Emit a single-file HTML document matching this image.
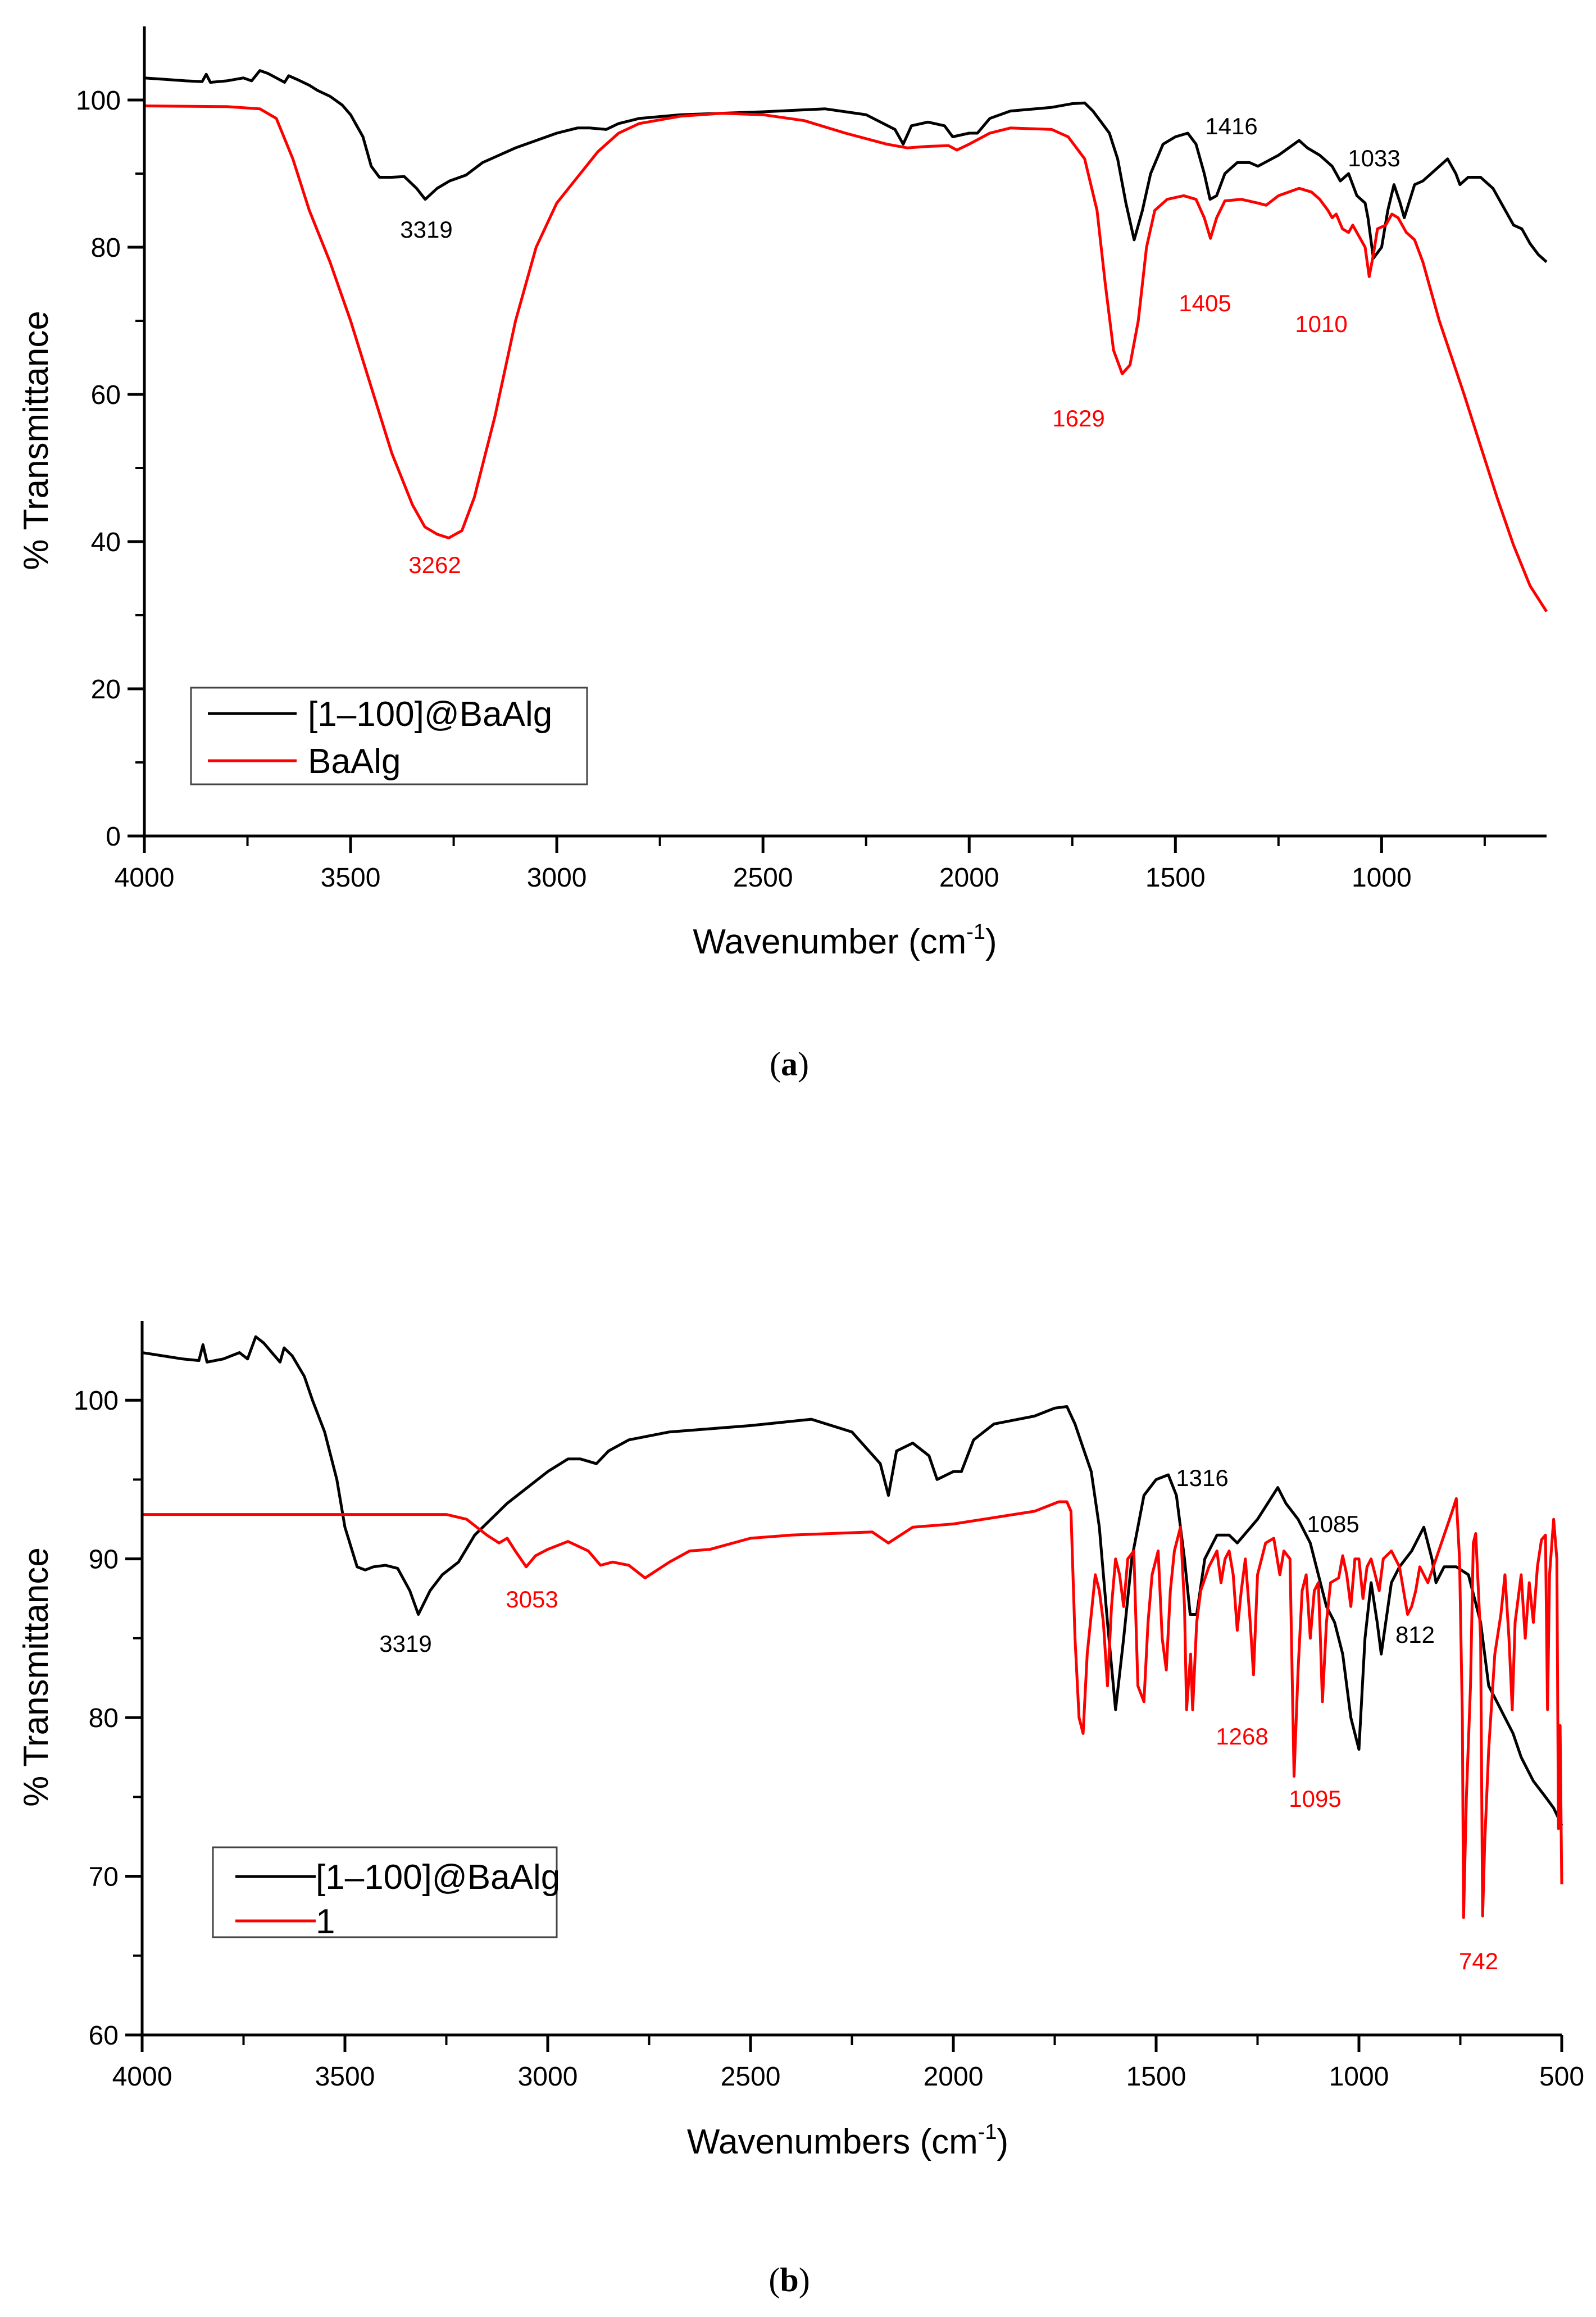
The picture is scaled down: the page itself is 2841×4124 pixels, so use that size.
<!DOCTYPE html>
<html><head><meta charset="utf-8"><style>
html,body{margin:0;padding:0;background:#fff;}
svg{display:block;font-family:"Liberation Sans",Arial,sans-serif;}
</style></head><body>
<svg id="fig" width="2841" height="4124" viewBox="0 0 2841 4124" xmlns="http://www.w3.org/2000/svg"></svg>
<script>
// ---- Chart (a) data ----
const aBlackWn = [4000,3950,3900,3860,3850,3840,3800,3760,3740,3720,3700,3680,3660,3650,3630,3600,3580,3550,3520,3500,3470,3450,3430,3400,3370,3340,3319,3290,3260,3220,3180,3100,3000,2950,2920,2880,2850,2800,2700,2500,2350,2250,2180,2160,2140,2100,2060,2040,2000,1980,1950,1900,1800,1750,1720,1700,1680,1660,1640,1620,1600,1580,1560,1530,1500,1470,1450,1430,1416,1400,1380,1350,1320,1300,1250,1200,1180,1150,1120,1100,1080,1060,1040,1033,1020,1000,985,970,955,945,920,900,870,840,820,810,790,760,730,700,680,660,640,620,600];
const aBlackT  = [103,102.8,102.6,102.5,103.5,102.4,102.6,103,102.6,104,103.6,103,102.4,103.3,102.8,102,101.3,100.5,99.3,98,95,91,89.5,89.5,89.6,88,86.5,88,89,89.8,91.5,93.5,95.5,96.2,96.2,96,96.8,97.5,98,98.4,98.8,98,96,94,96.5,97,96.5,95,95.5,95.5,97.5,98.5,99,99.5,99.6,98.5,97,95.5,92,86,81,85,90,94,95,95.5,94,90,86.5,87,90,91.5,91.5,91,92.5,94.5,93.5,92.5,91,89,90,87,86,84,78.5,80,85,88.5,86,84,88.5,89,90.5,92,90,88.5,89.5,89.5,88,85,83,82.5,80.5,79,78];
const aRedWn = [4000,3800,3720,3680,3640,3600,3550,3500,3450,3400,3350,3320,3290,3262,3230,3200,3150,3100,3050,3000,2950,2900,2850,2800,2700,2600,2500,2400,2300,2200,2150,2100,2050,2030,2000,1950,1900,1800,1760,1720,1690,1670,1650,1629,1610,1590,1570,1550,1520,1480,1450,1430,1415,1400,1380,1340,1300,1280,1250,1200,1170,1150,1130,1120,1110,1095,1080,1070,1060,1040,1030,1020,1010,990,975,960,940,920,900,880,860,830,800,760,720,680,640,600];
const aRedT  = [99.2,99.1,98.8,97.5,92,85,78,70,61,52,45,42,41,40.5,41.5,46,57,70,80,86,89.5,93,95.5,96.8,97.8,98.2,98,97.2,95.5,94,93.5,93.7,93.8,93.2,94,95.5,96.2,96,95,92,85,75,66,62.8,64,70,80,85,86.5,87,86.5,84,81.2,84,86.3,86.5,86,85.7,87,88,87.5,86.5,85,84,84.5,82.5,82,83,82,80,76,79,82.5,83,84.5,84,82,81,78,74,70,65,60,53,46,39.5,34,30.5];
const aYTicks = [0,20,40,60,80,100];
const aXTicks = [4000,3500,3000,2500,2000,1500,1000];
const aLabels = [["3319",3319,"#000",759,408],["3262",3262,"red",774,1005],["1629",1629,"red",1920,744],["1405",1405,"red",2145,539],["1010",1010,"red",2352,576],["1416",1416,"#000",2192,224],["1033",1033,"#000",2446,281]];
// ---- Chart (b) data ----
const bBlackWn = [4000,3950,3900,3860,3850,3840,3800,3760,3740,3720,3700,3680,3660,3650,3630,3600,3580,3550,3520,3500,3470,3450,3430,3400,3370,3340,3319,3290,3260,3220,3180,3100,3000,2950,2920,2880,2850,2800,2700,2500,2350,2250,2180,2160,2140,2100,2060,2040,2000,1980,1950,1900,1800,1750,1720,1700,1680,1660,1640,1620,1600,1580,1560,1530,1500,1470,1450,1430,1416,1400,1380,1350,1320,1300,1250,1200,1180,1150,1120,1100,1080,1060,1040,1020,1000,985,970,955,945,920,900,870,840,820,810,790,760,730,700,680,660,640,620,600,570,540,520,505,500];
const bBlackT  = [103,102.8,102.6,102.5,103.5,102.4,102.6,103,102.6,104,103.6,103,102.4,103.3,102.8,101.5,100,98,95,92,89.5,89.3,89.5,89.6,89.4,88,86.5,88,89,89.8,91.5,93.5,95.5,96.3,96.3,96,96.8,97.5,98,98.4,98.8,98,96,94,96.8,97.3,96.5,95,95.5,95.5,97.5,98.5,99,99.5,99.6,98.5,97,95.5,92,86,80.5,85,90,94,95,95.3,94,90,86.5,86.5,90,91.5,91.5,91,92.5,94.5,93.5,92.5,91,89,87,86,84,80,78,85,88.5,86,84,88.5,89.5,90.5,92,90,88.5,89.5,89.5,89,86,82,81,80,79,77.5,76,75,74.3,73.5,73.2];
const bRedWn = [4000,3500,3250,3200,3150,3120,3100,3080,3053,3030,3000,2950,2900,2870,2840,2800,2760,2700,2650,2600,2500,2400,2200,2160,2100,2000,1900,1800,1740,1720,1710,1700,1690,1680,1670,1650,1640,1630,1620,1610,1600,1590,1580,1570,1555,1545,1530,1520,1510,1495,1485,1475,1465,1455,1440,1430,1425,1415,1410,1400,1390,1370,1350,1340,1330,1320,1310,1300,1290,1280,1268,1260,1250,1230,1210,1195,1185,1170,1160,1150,1140,1130,1120,1110,1100,1095,1090,1080,1070,1050,1040,1030,1020,1010,1000,990,980,970,950,940,920,900,880,870,860,850,830,810,790,770,760,752,745,742,735,725,718,712,700,695,690,680,665,650,640,630,622,615,600,590,580,570,560,550,540,535,530,520,512,508,504,500];
const bRedT  = [92.8,92.8,92.8,92.5,91.5,91,91.3,90.5,89.5,90.2,90.6,91.1,90.5,89.6,89.8,89.6,88.8,89.8,90.5,90.6,91.3,91.5,91.7,91,92,92.2,92.6,93,93.6,93.6,93,85,80,79,84,89,88,86,82,87,90,89,87,90,90.5,82,81,86,89,90.5,85,83,88,90.5,92,87,80.5,84,80.5,86,88,89.5,90.5,88.5,90,90.5,89,85.5,88,90,86,82.7,89,91,91.3,89,90.5,90,76.3,83,88,89,85,88,88.5,85,81,86,88.5,88.8,90.2,89,87,90,90,87.5,89.5,90,88,90,90.5,89.5,86.5,87,88,89.5,88.5,90,91.5,93,93.8,90,80,67.4,75,82,91,91.6,85,67.5,72,78,84,86.5,89,85,80.5,86,89,85,88.5,86,89.5,91.2,91.5,80.5,89,92.5,90,73,79.5,69.5];
const bYTicks = [60,70,80,90,100];
const bXTicks = [4000,3500,3000,2500,2000,1500,1000,500];
const bLabels = [["3319",3319,"#000",722,2925],["3053",3053,"red",947,2846],["1316",1316,"#000",2140,2630],["1085",1085,"#000",2373,2712],["812",812,"#000",2519,2909],["1268",1268,"red",2211,3090],["1095",1095,"red",2341,3201],["742",742,"red",2632,3490]];

const NS="http://www.w3.org/2000/svg";
const svg=document.getElementById('fig');
function mk(tag,attrs,parent){const e=document.createElementNS(NS,tag);for(const k in attrs)e.setAttribute(k,attrs[k]);(parent||svg).appendChild(e);return e;}

function chart(cfg){
  const g=mk('g',{});
  
  
  const X=w=>cfg.x0+(cfg.wmax-w)/(cfg.wmax-cfg.wmin)*(cfg.x1-cfg.x0);
  const Y=t=>cfg.y0-(t-cfg.tmin)/(cfg.tmax-cfg.tmin)*(cfg.y0-cfg.y1);
  // series
  cfg.series.forEach(s=>{
    let d='';s.wn.forEach((w,i)=>{d+=(i?'L':'M')+X(w).toFixed(1)+' '+Y(s.t[i]).toFixed(1);});
    const p=mk('path',{d:d,fill:'none',stroke:s.color,'stroke-width':5,'stroke-linejoin':'round'},g);
    
    
  });
  // axes
  const ax=mk('path',{d:`M${cfg.x0} ${cfg.y1}V${cfg.y0}H${cfg.x1}`,fill:'none',stroke:'#000','stroke-width':5},g);
  
  
  if(cfg.rightTick) mk('line',{x1:cfg.x1,y1:cfg.y0,x2:cfg.x1,y2:cfg.y0+30,stroke:'#000','stroke-width':5},g);
  cfg.yt.forEach((v,i)=>{
    mk('line',{x1:cfg.x0-30,y1:Y(v),x2:cfg.x0,y2:Y(v),stroke:'#000','stroke-width':5},g);
    const mv=v+cfg.ystep/2; if(mv<cfg.tmax) mk('line',{x1:cfg.x0-16,y1:Y(mv),x2:cfg.x0,y2:Y(mv),stroke:'#000','stroke-width':4},g);
    const t=mk('text',{x:cfg.x0-42,y:Y(v)+17,'text-anchor':'end','font-size':48},g);t.textContent=v;
    
    
  });
  cfg.xt.forEach(v=>{
    mk('line',{x1:X(v),y1:cfg.y0,x2:X(v),y2:cfg.y0+30,stroke:'#000','stroke-width':5},g);
    const mv=v-250; if(mv>=cfg.wmin) mk('line',{x1:X(mv),y1:cfg.y0,x2:X(mv),y2:cfg.y0+18,stroke:'#000','stroke-width':4},g);
    const t=mk('text',{x:X(v),y:cfg.y0+90,'text-anchor':'middle','font-size':48},g);t.textContent=v;
    
    
  });
  cfg.labels.forEach(l=>{
    const t=mk('text',{x:l[3],y:l[4]+15,'text-anchor':'middle','font-size':42,fill:l[2]},g);t.textContent=l[0];
    
    
  });
  // axis titles
  const yt=mk('text',{x:0,y:0,'text-anchor':'middle','font-size':62,transform:`translate(${cfg.ytx},${cfg.yty}) rotate(-90)`},g);
  yt.textContent='% Transmittance';
  
  
  const xt=mk('text',{x:cfg.xtx,y:cfg.xty+22,'text-anchor':'middle','font-size':62},g);
  xt.innerHTML=cfg.xtitle+' (cm<tspan font-size="38" dy="-26">-1</tspan><tspan dy="26">)</tspan>';
  
  
  // legend
  const lg=mk('g',{},g);
  
  
  mk('rect',{x:cfg.lg[0],y:cfg.lg[1],width:cfg.lg[2],height:cfg.lg[3],fill:'#fff',stroke:'#444','stroke-width':3},lg);
  cfg.series.forEach((s,i)=>{
    const yy=cfg.lgRows[i];
    mk('line',{x1:cfg.lgLine[0],y1:yy,x2:cfg.lgLine[1],y2:yy,stroke:s.color,'stroke-width':5},lg);
    const t=mk('text',{x:cfg.lgText,y:yy+22,'font-size':62},lg);t.textContent=s.label;
    
    
  });
  const cap=mk('text',{x:cfg.capx,y:cfg.capy+20,'text-anchor':'middle','font-size':60,'font-family':'Liberation Serif, serif'},g);
  cap.innerHTML='(<tspan font-weight="bold">'+cfg.cap+'</tspan>)';
  
  
}

chart({name:'chart-a',x0:257,x1:2753,wmax:4000,wmin:600,y0:1488,y1:47,tmin:0,tmax:110,ystep:20,
  yt:aYTicks,xt:aXTicks,rightTick:false,
  series:[{name:'series-1-100-baalg',label:'[1–100]@BaAlg',color:'#000',wn:aBlackWn,t:aBlackT},
          {name:'series-baalg',label:'BaAlg',color:'#ff0000',wn:aRedWn,t:aRedT}],
  labels:aLabels,ytx:85,yty:784,xtitle:'Wavenumber',xtx:1504,xty:1675,
  lg:[340,1224,705,172],lgRows:[1270,1354],lgLine:[370,528],lgText:548,cap:'a',capx:1405,capy:1894});
chart({name:'chart-b',x0:253,x1:2780,wmax:4000,wmin:500,y0:3622,y1:2351,tmin:60,tmax:105,ystep:10,
  yt:bYTicks,xt:bXTicks,rightTick:true,
  series:[{name:'series-1-100-baalg',label:'[1–100]@BaAlg',color:'#000',wn:bBlackWn,t:bBlackT},
          {name:'series-1',label:'1',color:'#ff0000',wn:bRedWn,t:bRedT}],
  labels:bLabels,ytx:85,yty:2985,xtitle:'Wavenumbers',xtx:1509,xty:3811,
  lg:[379,3288,612,160],lgRows:[3340,3419],lgLine:[419,562],lgText:562,cap:'b',capx:1405,capy:4058});
</script>
</body></html>
